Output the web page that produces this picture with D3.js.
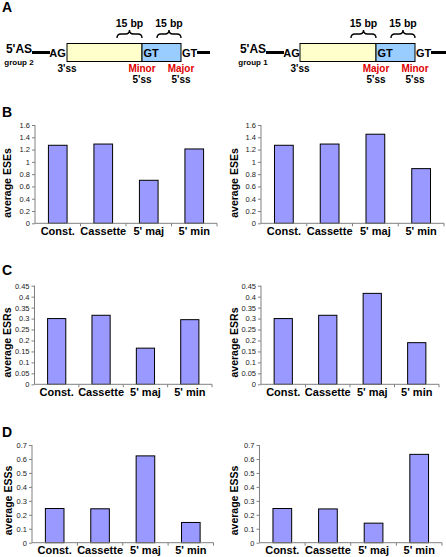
<!DOCTYPE html>
<html><head><meta charset="utf-8">
<script src="https://cdn.jsdelivr.net/npm/d3@7"></script>
<style>
html,body{margin:0;padding:0;background:#fff;}
svg{display:block;font-family:Arial,"Liberation Sans",sans-serif;}
</style></head>
<body>
<svg id="chart" width="446" height="557"></svg>
<script>
// ---- data ----
const categories = ["Const.", "Cassette", "5' maj", "5' min"];
const eseGroup2 = [1.27, 1.29, 0.70, 1.21];
const eseGroup1 = [1.27, 1.29, 1.45, 0.89];
const esrGroup2 = [0.300, 0.315, 0.165, 0.295];
const esrGroup1 = [0.300, 0.315, 0.415, 0.190];
const essGroup2 = [0.245, 0.243, 0.622, 0.145];
const essGroup1 = [0.245, 0.242, 0.140, 0.633];
const eseTicks = [0, 0.2, 0.4, 0.6, 0.8, 1, 1.2, 1.4, 1.6];
const esrTicks = [0, 0.05, 0.1, 0.15, 0.2, 0.25, 0.3, 0.35, 0.4, 0.45];
const essTicks = [0, 0.1, 0.2, 0.3, 0.4, 0.5, 0.6, 0.7];
const yTitles = ["average ESEs", "average ESRs", "average ESSs"];
const panelLetters = ["A", "B", "C", "D"];

const svg = d3.select("#chart");
const FONT = 'Arial, "Liberation Sans", sans-serif';

// ---- panel letters ----
const letterY = [12, 117, 275, 437];
panelLetters.forEach((l, i) => {
  svg.append("text").attr("x", 2).attr("y", letterY[i])
    .attr("font-size", 14).attr("font-weight", "bold").text(l);
});

// ---- diagrams (panel A) ----
function brace(g, x1, x2, yTip, yEnd) {
  const m = (x1 + x2) / 2, h = yEnd - yTip, r = Math.min(4, (x2 - x1) / 4);
  const ymid = yTip + h / 2;
  const p = `M${x1},${yEnd} Q${x1},${ymid} ${x1 + r},${ymid} L${m - r},${ymid} Q${m},${ymid} ${m},${yTip}
             Q${m},${ymid} ${m + r},${ymid} L${x2 - r},${ymid} Q${x2},${ymid} ${x2},${yEnd}`;
  g.append("path").attr("d", p).attr("fill", "none").attr("stroke", "#000").attr("stroke-width", 1.4);
}
function diagram(o) {
  const g = svg.append("g");
  const yl = 52.5;
  g.append("text").attr("x", o.asX).attr("y", 53).attr("text-anchor", "middle")
    .attr("font-size", 12).attr("font-weight", "bold").text("5'AS");
  g.append("text").attr("x", o.asX).attr("y", 64.5).attr("text-anchor", "middle")
    .attr("font-size", 8).attr("font-weight", "bold").text(o.group);
  g.append("line").attr("x1", o.l1[0]).attr("x2", o.l1[1]).attr("y1", yl).attr("y2", yl)
    .attr("stroke", "#000").attr("stroke-width", 3);
  g.append("line").attr("x1", o.l2[0]).attr("x2", o.l2[1]).attr("y1", yl).attr("y2", yl)
    .attr("stroke", "#000").attr("stroke-width", 3);
  g.append("text").attr("x", o.agX).attr("y", 57).attr("text-anchor", "middle")
    .attr("font-size", 11).attr("font-weight", "bold").text("AG");
  g.append("rect").attr("x", o.yb).attr("y", 43.5).attr("width", o.bb - o.yb).attr("height", 18)
    .attr("fill", "#ffffcc").attr("stroke", "#000").attr("stroke-width", 1);
  g.append("rect").attr("x", o.bb).attr("y", 43.5).attr("width", o.be - o.bb).attr("height", 18)
    .attr("fill", "#99ccff").attr("stroke", "#000").attr("stroke-width", 1);
  g.append("text").attr("x", o.bb + 1.5).attr("y", 57).attr("font-size", 11).attr("font-weight", "bold").text("GT");
  g.append("text").attr("x", o.be + 1).attr("y", 57).attr("font-size", 11).attr("font-weight", "bold").text("GT");
  g.append("text").attr("x", o.yb).attr("y", 72).attr("text-anchor", "middle")
    .attr("font-size", 10).attr("font-weight", "bold").text("3'ss");
  [[o.bb, o.lab1], [o.be, o.lab2]].forEach(([x, lab]) => {
    g.append("text").attr("x", x).attr("y", 72).attr("text-anchor", "middle")
      .attr("font-size", 10).attr("font-weight", "bold").attr("fill", "#e00000").text(lab);
    g.append("text").attr("x", x).attr("y", 83).attr("text-anchor", "middle")
      .attr("font-size", 10).attr("font-weight", "bold").text("5'ss");
  });
  [[o.bb - 25, o.bb], [o.bb + 15, o.be]].forEach(([a, b]) => {
    brace(g, a, b, 30, 38);
    g.append("text").attr("x", (a + b) / 2).attr("y", 27).attr("text-anchor", "middle")
      .attr("font-size", 10.5).attr("font-weight", "bold").text("15 bp");
  });
}
diagram({asX: 19, group: "group 2", l1: [32, 50], l2: [197, 210], agX: 57.5, yb: 67, bb: 142, be: 181, lab1: "Minor", lab2: "Major"});
diagram({asX: 253, group: "group 1", l1: [266, 284], l2: [431, 446], agX: 291.5, yb: 300, bb: 376, be: 415, lab1: "Major", lab2: "Minor"});

// ---- bar charts ----
const panels = [
  {vals: eseGroup2, ticks: eseTicks, max: 1.6, x0: 35, x1: 217, top: 125, bottom: 223.3, title: yTitles[0], tx: 11, ty: 183},
  {vals: eseGroup1, ticks: eseTicks, max: 1.6, x0: 261, x1: 444, top: 125, bottom: 223.3, title: yTitles[0], tx: 238, ty: 183},
  {vals: esrGroup2, ticks: esrTicks, max: 0.45, x0: 34.5, x1: 212, top: 285.7, bottom: 384.3, title: yTitles[1], tx: 11, ty: 342.5},
  {vals: esrGroup1, ticks: esrTicks, max: 0.45, x0: 261, x1: 439, top: 285.7, bottom: 384.3, title: yTitles[1], tx: 238, ty: 342.5},
  {vals: essGroup2, ticks: essTicks, max: 0.7, x0: 32, x1: 213.5, top: 445, bottom: 542.7, title: yTitles[2], tx: 11.5, ty: 500.5},
  {vals: essGroup1, ticks: essTicks, max: 0.7, x0: 259.5, x1: 442, top: 445, bottom: 542.7, title: yTitles[2], tx: 238, ty: 500.5}
];
const fmt = d3.format("~g");

panels.forEach(p => {
  const x = d3.scaleBand().domain(categories).range([p.x0, p.x1]).paddingInner(0.59).paddingOuter(0.295);
  const y = d3.scaleLinear().domain([0, p.max]).range([p.bottom, p.top]);
  const g = svg.append("g");

  // bars
  g.selectAll("rect.bar").data(p.vals).enter().append("rect")
    .attr("class", "bar")
    .attr("x", (d, i) => x(categories[i]))
    .attr("width", x.bandwidth())
    .attr("y", d => y(d))
    .attr("height", d => p.bottom - y(d))
    .attr("fill", "#9999ff").attr("stroke", "#000").attr("stroke-width", 1);

  // y axis
  const ya = g.append("g").attr("transform", `translate(${p.x0},0)`)
    .call(d3.axisLeft(y).tickValues(p.ticks).tickFormat(fmt).tickSize(3).tickPadding(2));
  ya.select(".domain").attr("stroke", "#808080").attr("d", `M-0,${p.top}V${p.bottom}`);
  ya.selectAll(".tick line").attr("stroke", "#808080");
  ya.selectAll(".tick text").attr("font-size", 7.5).attr("font-family", FONT).attr("fill", "#222");

  // x axis
  const xa = g.append("g").attr("transform", `translate(0,${p.bottom})`)
    .call(d3.axisBottom(x).tickSize(0).tickPadding(3.5));
  xa.select(".domain").attr("stroke", "#808080").attr("d", `M${p.x0},0H${p.x1}`);
  xa.selectAll(".tick text").attr("font-size", 11).attr("font-weight", "bold")
    .attr("font-family", FONT).attr("fill", "#000");
  const step = x.step();
  const bounds = d3.range(1, categories.length + 1).map(i => p.x0 + i * step);
  xa.selectAll("line.sep").data(bounds).enter().append("line").attr("class", "sep")
    .attr("x1", d => d).attr("x2", d => d).attr("y1", 0).attr("y2", 3).attr("stroke", "#808080");

  // y title
  g.append("text").attr("transform", `translate(${p.tx},${p.ty}) rotate(-90)`)
    .attr("text-anchor", "middle").attr("font-size", 10.5).attr("font-weight", "bold").text(p.title);
});
</script>
</body></html>
